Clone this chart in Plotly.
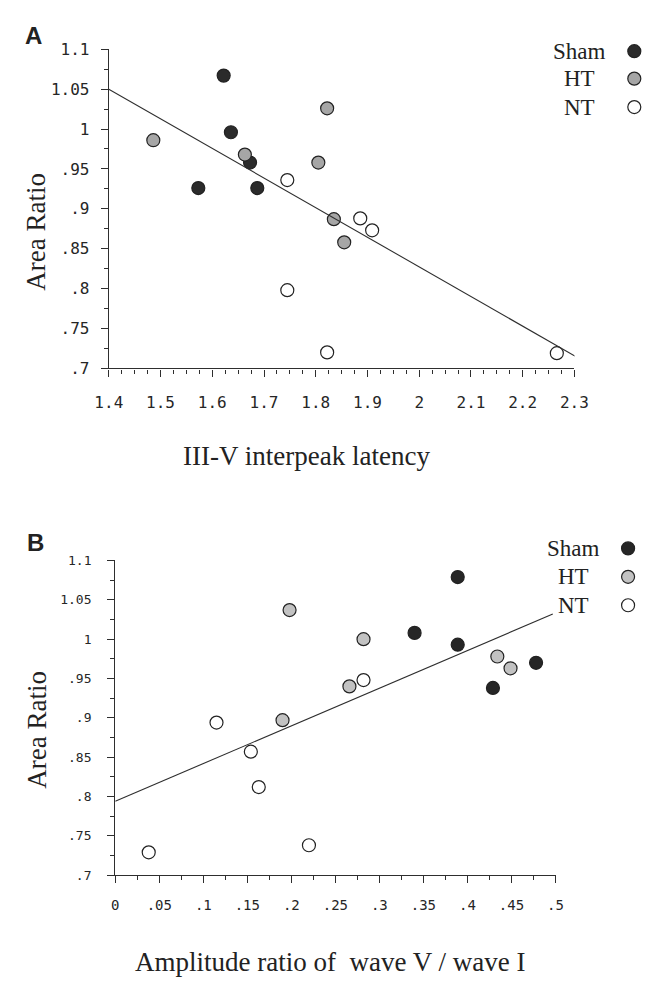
import numpy as np
import plotly.graph_objects as go

# ---------------- data ----------------
# Panel A : III-V interpeak latency vs Area Ratio
a_sham_x = [1.622, 1.636, 1.673, 1.573, 1.687]
a_sham_y = [1.067, 0.996, 0.958, 0.926, 0.926]
a_ht_x = [1.486, 1.663, 1.805, 1.822, 1.835, 1.855]
a_ht_y = [0.986, 0.968, 0.958, 1.026, 0.887, 0.858]
a_nt_x = [1.745, 1.745, 1.886, 1.909, 1.822, 2.266]
a_nt_y = [0.936, 0.798, 0.888, 0.873, 0.720, 0.719]
a_fit_x = [1.4, 2.302]
a_fit_y = [1.050, 0.715]

# Panel B : Amplitude ratio wave V / wave I vs Area Ratio
b_sham_x = [0.340, 0.389, 0.389, 0.478, 0.429]
b_sham_y = [1.008, 1.079, 0.993, 0.970, 0.938]
b_ht_x = [0.198, 0.190, 0.266, 0.282, 0.434, 0.449]
b_ht_y = [1.037, 0.897, 0.940, 1.000, 0.978, 0.963]
b_nt_x = [0.038, 0.115, 0.154, 0.163, 0.220, 0.282]
b_nt_y = [0.729, 0.894, 0.857, 0.812, 0.738, 0.948]
b_fit_x = [0.0, 0.497]
b_fit_y = [0.794, 1.032]

y_tickvals = [0.7, 0.75, 0.8, 0.85, 0.9, 0.95, 1.0, 1.05, 1.1]
y_ticktext = [".7", ".75", ".8", ".85", ".9", ".95", "1", "1.05", "1.1"]
a_x_tickvals = [1.4, 1.5, 1.6, 1.7, 1.8, 1.9, 2.0, 2.1, 2.2, 2.3]
a_x_ticktext = ["1.4", "1.5", "1.6", "1.7", "1.8", "1.9", "2", "2.1", "2.2", "2.3"]
b_x_tickvals = [0, 0.05, 0.1, 0.15, 0.2, 0.25, 0.3, 0.35, 0.4, 0.45, 0.5]
b_x_ticktext = ["0", ".05", ".1", ".15", ".2", ".25", ".3", ".35", ".4", ".45", ".5"]

groups = ["Sham", "HT", "NT"]

# ---------------- style ----------------
W, H = 655, 984
INK = "#2e2e2e"
fill_a = {"Sham": "#2b2b2b", "HT": "#a6a6a6", "NT": "#ffffff"}
fill_b = {"Sham": "#262626", "HT": "#c2c2c2", "NT": "#ffffff"}
SERIF = "Liberation Serif, Times New Roman, serif"
MONO = "DejaVu Sans Mono, Liberation Mono, monospace"
BOLD = "Liberation Sans, Arial, sans-serif"


def px_x(p):
    return p / W


def px_y(p):
    return 1 - p / H


fig = go.Figure()


def add_points(x, y, color, xa, ya, size=13):
    fig.add_trace(go.Scatter(
        x=x, y=y, mode="markers", xaxis=xa, yaxis=ya, showlegend=False,
        marker=dict(size=size, color=color, line=dict(color="#222222", width=1.2)),
        hoverinfo="x+y"))


add_points(a_sham_x, a_sham_y, fill_a["Sham"], "x", "y")
add_points(a_ht_x, a_ht_y, fill_a["HT"], "x", "y")
add_points(a_nt_x, a_nt_y, fill_a["NT"], "x", "y")
fig.add_trace(go.Scatter(x=a_fit_x, y=a_fit_y, mode="lines", xaxis="x", yaxis="y",
                         showlegend=False, line=dict(color=INK, width=1.1)))

add_points(b_sham_x, b_sham_y, fill_b["Sham"], "x2", "y2")
add_points(b_ht_x, b_ht_y, fill_b["HT"], "x2", "y2")
add_points(b_nt_x, b_nt_y, fill_b["NT"], "x2", "y2")
fig.add_trace(go.Scatter(x=b_fit_x, y=b_fit_y, mode="lines", xaxis="x2", yaxis="y2",
                         showlegend=False, line=dict(color=INK, width=1.1)))


def axis_common(fontsize, standoff):
    return dict(
        showline=True, linecolor=INK, linewidth=1.2,
        ticks="outside", ticklen=7, tickwidth=1.2, tickcolor=INK,
        showgrid=False, zeroline=False, tickmode="array",
        tickfont=dict(family=MONO, size=fontsize, color="#262626"),
        ticklabelstandoff=standoff, fixedrange=True,
    )


def minor(start, stop):
    return dict(ticks="outside", ticklen=4, tickwidth=1, tickcolor=INK,
                tickvals=list(np.round(np.arange(start, stop + 1e-9, 0.025), 3)))


# panel A axes
xa = axis_common(16, 12)
xa.update(domain=[px_x(99), px_x(585.5)], range=[1.3999, 2.3001], anchor="y",
          tickvals=a_x_tickvals, ticktext=a_x_ticktext, minor=minor(1.4, 2.3))
ya = axis_common(16, 8)
ya.update(domain=[px_y(366.5), px_y(41)], range=[0.6999, 1.1001], anchor="x",
          tickvals=y_tickvals, ticktext=y_ticktext, minor=minor(0.7, 1.1))

# panel B axes
xb = axis_common(14, 10)
xb.update(domain=[px_x(105.7), px_x(565.7)], range=[-0.0001, 0.5001], anchor="y2",
          tickvals=b_x_tickvals, ticktext=b_x_ticktext, minor=minor(0, 0.5))
yb = axis_common(13, 13)
yb.update(domain=[px_y(883.3), px_y(562.3)], range=[0.6999, 1.1001], anchor="x2",
          tickvals=y_tickvals, ticktext=y_ticktext, minor=minor(0.7, 1.1))

annotations = []


def text(t, x, y, size, family=SERIF, angle=0, bold=False, xanchor="center"):
    annotations.append(dict(
        text=("<b>%s</b>" % t) if bold else t, x=px_x(x), y=px_y(y),
        xref="paper", yref="paper", showarrow=False, textangle=angle,
        xanchor=xanchor, yanchor="middle",
        font=dict(family=family, size=size, color="#222222")))


# panel labels
text("A", 20, 27, 24, family=BOLD, bold=True)
text("B", 22, 544, 24, family=BOLD, bold=True)
# axis titles
text("Area Ratio", 23, 227, 27, angle=-90)
text("Area Ratio", 24, 735, 27, angle=-90)
text("III-V interpeak latency", 306, 456, 27)
text("Amplitude ratio of\u00a0 wave V / wave I", 330, 972, 27)

# legends (text left, marker right)
shapes = []
leg_a = {"text_x": 591, "mark_x": 648, "ys": [43, 71, 100]}
leg_b = {"text_x": 584, "mark_x": 641.5, "ys": [550, 579, 608]}
for leg, fills in ((leg_a, fill_a), (leg_b, fill_b)):
    for g, yy in zip(groups, leg["ys"]):
        text(g, leg["text_x"], yy, 23)
        shapes.append(dict(
            type="circle", xref="paper", yref="paper",
            xsizemode="pixel", ysizemode="pixel",
            xanchor=px_x(leg["mark_x"]), yanchor=px_y(yy),
            x0=-6.5, x1=6.5, y0=-6.5, y1=6.5,
            fillcolor=fills[g], line=dict(color="#222222", width=1.2)))

fig.update_layout(
    width=W, height=H, margin=dict(l=0, r=0, t=0, b=0),
    paper_bgcolor="white", plot_bgcolor="white",
    xaxis=xa, yaxis=ya, xaxis2=xb, yaxis2=yb,
    annotations=annotations, shapes=shapes, showlegend=False,
)

fig.write_html("out.html")
